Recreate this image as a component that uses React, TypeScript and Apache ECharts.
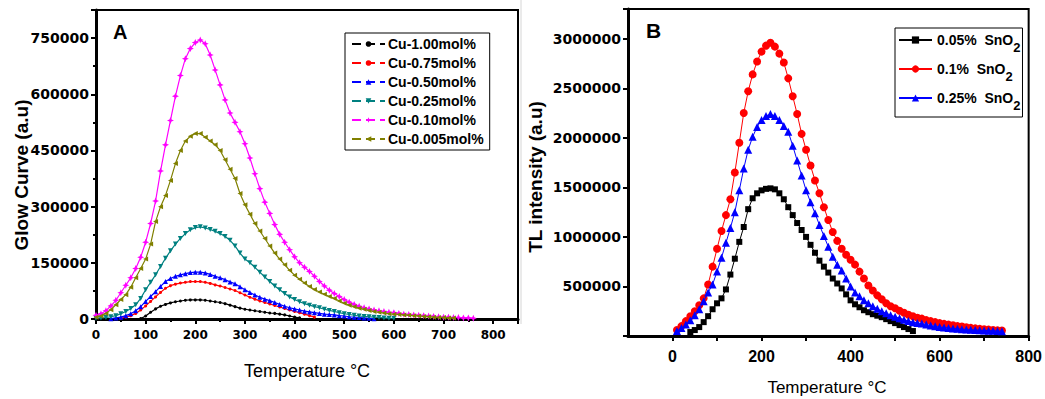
import React, { useEffect, useRef } from "react";
import * as echarts from "echarts";

// ---------- Panel A data (values in thousands) ----------
const UNIT = 1000;
const TEMP_A = [
  0, 10, 20, 30, 40, 50, 60, 70, 80, 90, 100, 110, 120, 130, 140, 150, 160, 170, 180, 190,
  200, 210, 220, 230, 240, 250, 260, 270, 280, 290, 300, 310, 320, 330, 340, 350, 360, 370, 380, 390,
  400, 410, 420, 430, 440, 450, 460, 470, 480, 490, 500, 510, 520, 530, 540, 550, 560, 570, 580, 590,
  600, 610, 620, 630, 640, 650, 660, 670, 680, 690, 700, 710, 720, 730, 740, 750, 760,
];
const A_NAMES = ["Cu-1.00mol%", "Cu-0.75mol%", "Cu-0.50mol%", "Cu-0.25mol%", "Cu-0.10mol%", "Cu-0.005mol%"];
const A_STARTS = [90, 50, 30, 0, 0, 0];
const CU_100 = [1, 8, 18, 27, 34, 39, 43, 46, 48, 50, 51, 51, 51, 50, 48, 46, 44, 41, 37, 33, 29, 26, 24, 22, 20, 18, 16, 15, 13, 11, 8, 5, 3];
const CU_075 = [2, 5, 9, 15, 24, 35, 47, 59, 71, 82, 89, 93, 96, 98, 100, 100, 100, 98, 95, 91, 88, 84, 80, 76, 70, 64, 58, 53, 48, 44, 40, 36, 32, 28, 24, 20, 17, 13, 9, 5];
const CU_050 = [1, 3, 5, 9, 14, 22, 33, 47, 60, 73, 87, 100, 108, 114, 118, 121, 124, 125, 125, 123, 119, 114, 110, 105, 99, 94, 86, 78, 71, 64, 58, 53, 49, 44, 39, 34, 30, 27, 24, 21, 19, 17, 15, 13, 12, 11, 9, 8, 6, 5, 4, 3, 2, 1];
const CU_025 = [2, 3, 4, 6, 9, 14, 20, 28, 38, 55, 78, 98, 118, 140, 162, 182, 200, 215, 228, 238, 244, 246,
  243, 239, 234, 228, 220, 210, 195, 176, 160, 150, 138, 125, 112, 100, 88, 78, 68, 59, 52, 46, 41, 37, 33, 30, 26, 23, 20, 17, 14, 12, 10, 8, 7, 6, 5, 4, 3, 2, 2];
const CU_010 = [10, 14, 22, 35, 50, 70, 90, 110, 135, 165, 205, 255, 315, 395, 465, 530, 595, 650, 695, 722, 738, 745,
  735, 705, 665, 625, 585, 550, 525, 500, 468, 430, 388, 348, 312, 282, 252, 226, 205, 185, 166, 150, 138, 127, 114, 100,
  88, 77, 68, 60, 52, 45, 39, 34, 30, 27, 24, 22, 20, 18, 17, 15, 13, 12, 11, 10, 9, 8, 7, 6, 5, 5, 4, 4, 3, 3, 2];
const CU_0005 = [5, 8, 15, 25, 38, 52, 65, 85, 110, 135, 160, 200, 260, 300, 330, 370, 415, 450, 475, 488, 495, 495,
  485, 475, 465, 450, 425, 400, 375, 335, 305, 280, 255, 235, 215, 195, 176, 160, 145, 130, 117, 106, 96, 87, 79, 72,
  66, 60, 55, 48, 42, 37, 33, 29, 26, 23, 20, 18, 16, 14, 13, 12, 11, 10, 9, 8, 7, 6, 5, 4, 4, 3, 3];
const A_VALUES = [CU_100, CU_075, CU_050, CU_025, CU_010, CU_0005];
const A_COLORS = ["#000000", "#ff0000", "#0000ff", "#008080", "#ff00ff", "#808000"];
const A_Y_TICKS = [0, 150000, 300000, 450000, 600000, 750000];
const A_X_TICKS = [0, 100, 200, 300, 400, 500, 600, 700, 800];

// ---------- Panel B data (values in thousands) ----------
const TEMP_B = [
  10, 20, 30, 40, 50, 60, 70, 80, 90, 100, 110, 120, 130, 140, 150, 160, 170, 180, 190, 200,
  210, 220, 230, 240, 250, 260, 270, 280, 290, 300, 310, 320, 330, 340, 350, 360, 370, 380, 390, 400,
  410, 420, 430, 440, 450, 460, 470, 480, 490, 500, 510, 520, 530, 540, 550, 560, 570, 580, 590, 600,
  610, 620, 630, 640, 650, 660, 670, 680, 690, 700, 710, 720, 730, 740,
];
const B_NAMES = ["0.05% SnO2", "0.1% SnO2", "0.25% SnO2"];
const B_STARTS = [40, 10, 10];
const SNO2_005 = [40, 60, 90, 140, 200, 270, 330, 380, 470, 620, 780, 950, 1100, 1280, 1390, 1440, 1470, 1485, 1490, 1480,
  1440, 1380, 1300, 1220, 1140, 1070, 1000, 920, 840, 760, 700, 640, 580, 530, 480, 420, 360, 320, 290, 260, 240, 220,
  205, 190, 170, 150, 130, 110, 90, 70, 50];
const SNO2_01 = [60, 100, 150, 200, 250, 310, 380, 520, 700, 880, 1060, 1220, 1380, 1650, 1950, 2250, 2470, 2640, 2770, 2870,
  2930, 2960, 2920, 2850, 2760, 2600, 2420, 2240, 2040, 1880, 1720, 1570, 1440, 1300, 1170, 1050, 960, 880, 820, 770,
  720, 650, 580, 510, 460, 410, 370, 330, 300, 280, 255, 235, 215, 200, 185, 175, 160, 150, 140, 130,
  122, 115, 108, 100, 95, 88, 82, 77, 72, 68, 64, 60, 57, 55];
const SNO2_025 = [50, 80, 115, 160, 210, 270, 350, 440, 520, 650, 790, 940, 1090, 1250, 1470, 1690, 1880, 2010, 2110, 2180,
  2220, 2240, 2220, 2180, 2120, 2060, 1920, 1770, 1620, 1470, 1350, 1240, 1120, 1010, 900, 800, 720, 660, 580, 500,
  440, 400, 360, 330, 300, 275, 250, 230, 210, 195, 180, 165, 152, 140, 132, 125, 115, 105, 98, 90,
  85, 80, 75, 72, 68, 65, 62, 60, 58, 56, 54, 52, 50, 48];
const B_VALUES = [SNO2_005, SNO2_01, SNO2_025];
const B_COLORS = ["#000000", "#ff0000", "#0000ff"];
const B_Y_TICKS = [500000, 1000000, 1500000, 2000000, 2500000, 3000000];
const B_X_TICKS = [0, 200, 400, 600, 800];

function pair(temps: number[], start: number, vals: number[]) {
  const i0 = temps.indexOf(start);
  return vals.map((v, i) => [temps[i0 + i], v * UNIT]);
}

const STAR = "path://M0,-10 L3,-3 L10,0 L3,3 L0,10 L-3,3 L-10,0 L-3,-3 Z";
const A_SYMBOLS = ["circle", "circle", "triangle", "triangle", STAR, "triangle"];
const A_ROT = [0, 0, 0, 180, 0, 90];
const A_SIZES = [3, 3, 5, 5, 7, 5];
const B_SYMBOLS = ["rect", "circle", "triangle"];
const B_SIZES = [6, 8, 8];

const DJ = "DejaVu Sans";
const LS = "Liberation Sans, Arial, sans-serif";

export default function App() {
  const ref = useRef<HTMLDivElement>(null);
  useEffect(() => {
    document.body.style.margin = "0";
    const chart = echarts.init(ref.current!, null, { renderer: "svg" });
    const axisLine = { show: true, onZero: false, lineStyle: { color: "#000", width: 3 } };
    const seriesA = A_NAMES.map((name, k) => ({
      name,
      type: "line",
      xAxisIndex: 0,
      yAxisIndex: 0,
      data: pair(TEMP_A, A_STARTS[k], A_VALUES[k]),
      symbol: A_SYMBOLS[k],
      symbolRotate: A_ROT[k],
      symbolSize: A_SIZES[k],
      showSymbol: true,
      lineStyle: { color: A_COLORS[k], width: 1.2 },
      itemStyle: { color: A_COLORS[k] },
      z: 2 + k,
    }));
    const seriesB = B_NAMES.map((name, k) => ({
      name,
      type: "line",
      xAxisIndex: 1,
      yAxisIndex: 1,
      data: pair(TEMP_B, B_STARTS[k], B_VALUES[k]),
      symbol: B_SYMBOLS[k],
      symbolSize: B_SIZES[k],
      showSymbol: true,
      lineStyle: { color: B_COLORS[k], width: 1 },
      itemStyle: { color: B_COLORS[k] },
      z: 2 + k,
    }));
    const option: any = {
      animation: false,
      backgroundColor: "#ffffff",
      grid: [
        { left: 96, top: 10, width: 422, height: 309, show: true, borderColor: "#000", borderWidth: 2, backgroundColor: "transparent" },
        { left: 628, top: 9, width: 402, height: 327, show: true, borderColor: "#000", borderWidth: 2, backgroundColor: "transparent" },
      ],
      xAxis: [
        {
          type: "value", gridIndex: 0, min: 0, max: 850, interval: 100,
          axisLine, splitLine: { show: false },
          axisTick: { show: true, inside: false, length: 5, lineStyle: { color: "#000", width: 2 } },
          minorTick: { show: true, splitNumber: 2, length: 3, lineStyle: { color: "#000", width: 2 } },
          axisLabel: {
            margin: 10, color: "#000", fontFamily: DJ, fontWeight: "bold", fontSize: 12,
            formatter: (v: number) => (A_X_TICKS.includes(v) ? String(v) : ""),
          },
        },
        {
          type: "value", gridIndex: 1, min: -100, max: 800, interval: 100,
          axisLine, splitLine: { show: false },
          axisTick: { show: true, inside: false, length: 5, lineStyle: { color: "#000", width: 2 } },
          axisLabel: {
            margin: 12, color: "#000", fontFamily: LS, fontWeight: "bold", fontSize: 16,
            showMinLabel: false,
            formatter: (v: number) => (B_X_TICKS.includes(v) ? String(v) : ""),
          },
        },
      ],
      yAxis: [
        {
          type: "value", gridIndex: 0, min: 0, max: 825000, interval: 150000,
          axisLine, splitLine: { show: false },
          axisTick: { show: true, inside: false, length: 5, lineStyle: { color: "#000", width: 2 } },
          minorTick: { show: true, splitNumber: 2, length: 3, lineStyle: { color: "#000", width: 2 } },
          axisLabel: {
            margin: 7, color: "#000", fontFamily: DJ, fontWeight: "bold", fontSize: 14,
            formatter: (v: number) => (A_Y_TICKS.includes(v) ? String(v) : ""),
          },
        },
        {
          type: "value", gridIndex: 1, min: 0, max: 3300000, interval: 500000,
          axisLine, splitLine: { show: false },
          axisTick: { show: true, inside: false, length: 5, lineStyle: { color: "#000", width: 2 } },
          axisLabel: {
            margin: 7, color: "#000", fontFamily: DJ, fontWeight: "bold", fontSize: 14,
            formatter: (v: number) => (B_Y_TICKS.includes(v) ? String(v) : ""),
          },
        },
      ],
      legend: [
        {
          data: A_NAMES,
          orient: "vertical",
          left: 345,
          top: 33,
          padding: [4, 6, 4, 6],
          itemGap: 5,
          itemWidth: 33,
          itemHeight: 7,
          borderColor: "#000",
          borderWidth: 1,
          backgroundColor: "#fff",
          lineStyle: { type: [9, 5] },
          textStyle: { fontFamily: LS, fontWeight: "bold", fontSize: 14, color: "#000", padding: [0, 0, 0, -2] },
        },
        {
          data: B_NAMES,
          orient: "vertical",
          left: 895,
          top: 28,
          padding: [5, 2, 5, 3],
          itemGap: 8,
          itemWidth: 33,
          itemHeight: 9,
          borderColor: "#000",
          borderWidth: 1,
          backgroundColor: "#fff",
          formatter: (name: string) => `{b|${name.replace(" SnO2", "  SnO")}}{s|2}`,
          textStyle: {
            fontFamily: LS, fontWeight: "bold", fontSize: 14, color: "#000",
            rich: {
              b: { fontFamily: LS, fontWeight: "bold", fontSize: 14, color: "#000", lineHeight: 20, verticalAlign: "middle" },
              s: { fontFamily: LS, fontWeight: "bold", fontSize: 13, color: "#000", lineHeight: 20, verticalAlign: "bottom", padding: [0, 0, -4, 0] },
            },
          },
        },
      ],
      graphic: [
        { type: "line", shape: { x1: 521, y1: 0, x2: 521, y2: 324 }, style: { stroke: "#d6d6d6", lineWidth: 1 } },
        { type: "text", x: 113, y: 32, style: { text: "A", font: `bold 20px ${LS}`, fill: "#000", align: "left", verticalAlign: "middle" } },
        { type: "text", x: 646, y: 30, style: { text: "B", font: `bold 21px ${LS}`, fill: "#000", align: "left", verticalAlign: "middle" } },
        { type: "text", x: 21, y: 175, rotation: Math.PI / 2, style: { text: "Glow Curve (a.u)", font: `bold 19px ${LS}`, fill: "#000", align: "center", verticalAlign: "middle" } },
        { type: "text", x: 535, y: 177, rotation: Math.PI / 2, style: { text: "TL intensity (a.u)", font: `bold 19px ${LS}`, fill: "#000", align: "center", verticalAlign: "middle" } },
        { type: "text", x: 307, y: 371, style: { text: "Temperature °C", font: `18px ${LS}`, fill: "#000", align: "center", verticalAlign: "middle" } },
        { type: "text", x: 827, y: 387, style: { text: "Temperature °C", font: `17px ${LS}`, fill: "#000", align: "center", verticalAlign: "middle" } },
      ],
      series: [...seriesA, ...seriesB],
    };
    chart.setOption(option);
    return () => chart.dispose();
  }, []);
  return <div ref={ref} style={{ width: 1045, height: 399 }} />;
}
